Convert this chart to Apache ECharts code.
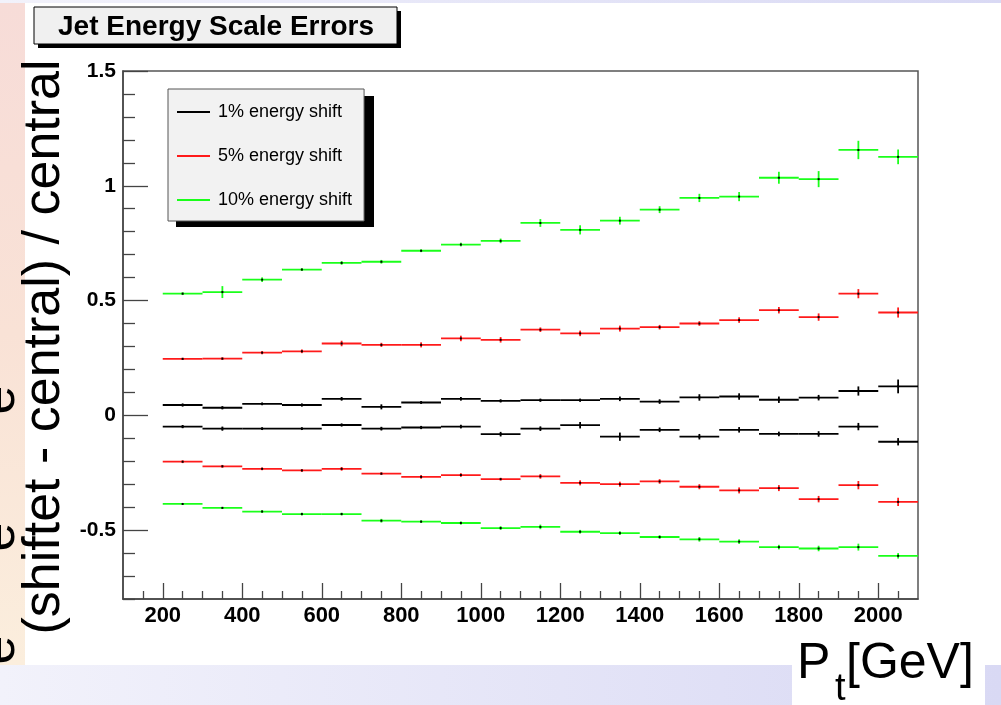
<!DOCTYPE html>
<html>
<head>
<meta charset="utf-8">
<script src="https://cdn.jsdelivr.net/npm/echarts@6/dist/echarts.min.js"></script>
<style>
  html, body { margin: 0; padding: 0; background: #fff; }
  #chart { width: 1001px; height: 705px; }
</style>
</head>
<body>
<div id="chart"></div>
<script>
// bin centres in Pt [GeV], each bin is 100 GeV wide
const ptBins = [250, 350, 450, 550, 650, 750, 850, 950, 1050, 1150, 1250, 1350, 1450, 1550, 1650, 1750, 1850, 1950, 2050];
const binWidth = 100;

// 1% shift, up / down
const shift1Up = [0.045, 0.033, 0.050, 0.045, 0.072, 0.037, 0.056, 0.072, 0.063, 0.066, 0.066, 0.072, 0.060, 0.078, 0.082, 0.068, 0.077, 0.106, 0.126];
const shift1UpErr = [0.007, 0.007, 0.006, 0.007, 0.008, 0.011, 0.006, 0.008, 0.007, 0.007, 0.007, 0.010, 0.010, 0.014, 0.014, 0.014, 0.012, 0.020, 0.030];
const shift1Down = [-0.049, -0.058, -0.058, -0.058, -0.042, -0.058, -0.053, -0.049, -0.082, -0.058, -0.043, -0.093, -0.063, -0.093, -0.063, -0.081, -0.081, -0.049, -0.115];
const shift1DownErr = [0.007, 0.009, 0.006, 0.006, 0.007, 0.008, 0.007, 0.008, 0.010, 0.010, 0.014, 0.018, 0.010, 0.012, 0.012, 0.010, 0.012, 0.016, 0.016];

// 5% shift, up / down
const shift5Up = [0.246, 0.247, 0.273, 0.279, 0.313, 0.307, 0.307, 0.335, 0.329, 0.373, 0.357, 0.378, 0.384, 0.400, 0.415, 0.458, 0.428, 0.530, 0.448];
const shift5UpErr = [0.005, 0.006, 0.007, 0.008, 0.012, 0.009, 0.011, 0.012, 0.012, 0.010, 0.012, 0.013, 0.010, 0.010, 0.012, 0.014, 0.016, 0.020, 0.022];
const shift5Down = [-0.202, -0.222, -0.233, -0.240, -0.233, -0.254, -0.268, -0.260, -0.278, -0.266, -0.294, -0.300, -0.288, -0.311, -0.327, -0.317, -0.365, -0.304, -0.377];
const shift5DownErr = [0.006, 0.006, 0.006, 0.006, 0.008, 0.006, 0.008, 0.008, 0.006, 0.010, 0.011, 0.011, 0.010, 0.011, 0.013, 0.013, 0.014, 0.018, 0.018];

// 10% shift, up / down
const shift10Up = [0.530, 0.537, 0.591, 0.635, 0.664, 0.669, 0.717, 0.744, 0.760, 0.838, 0.808, 0.848, 0.896, 0.947, 0.953, 1.035, 1.029, 1.156, 1.126];
const shift10UpErr = [0.006, 0.026, 0.010, 0.006, 0.008, 0.008, 0.006, 0.008, 0.010, 0.017, 0.020, 0.017, 0.015, 0.018, 0.020, 0.026, 0.035, 0.040, 0.032];
const shift10Down = [-0.386, -0.403, -0.419, -0.430, -0.430, -0.459, -0.463, -0.469, -0.491, -0.486, -0.507, -0.513, -0.530, -0.540, -0.550, -0.574, -0.580, -0.574, -0.612];
const shift10DownErr = [0.004, 0.004, 0.006, 0.006, 0.006, 0.008, 0.006, 0.007, 0.008, 0.010, 0.008, 0.008, 0.008, 0.010, 0.010, 0.010, 0.012, 0.015, 0.012];

// axis ticks
const xMajor = [200, 400, 600, 800, 1000, 1200, 1400, 1600, 1800, 2000];
const xMinor = [150, 250, 300, 350, 450, 500, 550, 650, 700, 750, 850, 900, 950, 1050, 1100, 1150, 1250, 1300, 1350, 1450, 1500, 1550, 1650, 1700, 1750, 1850, 1900, 1950, 2050];
const yMajor = [-0.5, 0, 0.5, 1, 1.5];
const yMinor = [-0.8, -0.7, -0.6, -0.4, -0.3, -0.2, -0.1, 0.1, 0.2, 0.3, 0.4, 0.6, 0.7, 0.8, 0.9, 1.1, 1.2, 1.3, 1.4];

const FONT = '"Liberation Sans", Arial, Helvetica, sans-serif';

function toRows(vals, errs) {
    return ptBins.map((x, i) => [x, vals[i], errs[i]]);
}

function renderBin(params, api) {
    const x = api.value(0);
    const y = api.value(1);
    const e = api.value(2);
    const l = api.coord([x - binWidth / 2, y]);
    const r = api.coord([x + binWidth / 2, y]);
    const t = api.coord([x, y + e]);
    const b = api.coord([x, y - e]);
    const c = api.coord([x, y]);
    const style = { stroke: api.visual('color'), lineWidth: 1.8 };
    return {
        type: 'group',
        children: [
            { type: 'line', shape: { x1: l[0], y1: l[1], x2: r[0], y2: r[1] }, style },
            { type: 'line', shape: { x1: t[0], y1: t[1], x2: b[0], y2: b[1] }, style },
            { type: 'rect', shape: { x: c[0] - 1, y: c[1] - 1, width: 2, height: 2 }, style: { fill: '#000' } },
        ],
    };
}

function binSeries(name, color, vals, errs) {
    return {
        name,
        type: 'custom',
        renderItem: renderBin,
        itemStyle: { color },
        encode: { x: 0, y: 1 },
        data: toRows(vals, errs),
        z: 3,
    };
}

function eGlyph(y) {
    return { type: 'text', z: -8, x: 0, y, rotation: Math.PI / 2,
        style: { text: 'e', font: '52px ' + FONT, fill: '#000', textAlign: 'center', textVerticalAlign: 'middle' } };
}

const chart = echarts.init(document.getElementById('chart'), null, { renderer: 'canvas' });

chart.setOption({
    backgroundColor: '#fff',
    animation: false,
    grid: {
        left: 123, top: 71, right: 83, bottom: 106,
        show: true, borderColor: '#555', borderWidth: 1.5, backgroundColor: 'transparent',
    },
    legend: {
        orient: 'vertical',
        left: 168, top: 89,
        width: 198,
        padding: [14, 12, 12, 9],
        itemGap: 26,
        itemWidth: 33,
        itemHeight: 2,
        icon: 'rect',
        backgroundColor: '#f2f2f2',
        borderColor: '#555',
        borderWidth: 1,
        textStyle: { fontFamily: FONT, fontSize: 18, color: '#000', padding: [0, 0, 0, 3] },
        data: ['1% energy shift', '5% energy shift', '10% energy shift'],
    },
    xAxis: [
        {
            type: 'value', min: 100, max: 2100, position: 'bottom',
            axisLine: { show: true, onZero: false, lineStyle: { color: '#444', width: 1.5 } },
            axisTick: { show: true, inside: true, length: 16, customValues: xMajor, lineStyle: { color: '#444', width: 1.3 } },
            axisLabel: { customValues: xMajor, formatter: v => String(v), fontFamily: FONT, fontWeight: 'bold', fontSize: 22, color: '#000', margin: 6 },
            splitLine: { show: false },
        },
        {
            type: 'value', min: 100, max: 2100, position: 'bottom',
            axisLine: { show: false, onZero: false },
            axisTick: { show: true, inside: true, length: 8, customValues: xMinor, lineStyle: { color: '#444', width: 1.3 } },
            axisLabel: { show: false },
            splitLine: { show: false },
        },
    ],
    yAxis: [
        {
            type: 'value', min: -0.8, max: 1.5, position: 'left',
            axisLine: { show: true, onZero: false, lineStyle: { color: '#444', width: 1.5 } },
            axisTick: { show: true, inside: true, length: 25, customValues: yMajor, lineStyle: { color: '#444', width: 1.3 } },
            axisLabel: { customValues: yMajor, fontFamily: FONT, fontWeight: 'bold', fontSize: 21, color: '#000', margin: 7 },
            splitLine: { show: false },
        },
        {
            type: 'value', min: -0.8, max: 1.5, position: 'left',
            axisLine: { show: false, onZero: false },
            axisTick: { show: true, inside: true, length: 12, customValues: yMinor, lineStyle: { color: '#444', width: 1.3 } },
            axisLabel: { show: false },
            splitLine: { show: false },
        },
    ],
    series: [
        binSeries('1% energy shift', '#000000', shift1Up, shift1UpErr),
        binSeries('1% energy shift', '#000000', shift1Down, shift1DownErr),
        binSeries('5% energy shift', '#ff1a1a', shift5Up, shift5UpErr),
        binSeries('5% energy shift', '#ff1a1a', shift5Down, shift5DownErr),
        binSeries('10% energy shift', '#1aff1a', shift10Up, shift10UpErr),
        binSeries('10% energy shift', '#1aff1a', shift10Down, shift10DownErr),
    ],
    graphic: [
        // slide background behind the plot
        { type: 'rect', z: -10, shape: { x: 0, y: 0, width: 1001, height: 705 },
          style: { fill: new echarts.graphic.LinearGradient(0, 0, 1, 0, [
              { offset: 0, color: '#f2f2fb' }, { offset: 1, color: '#d9d9f4' }]) } },
        { type: 'rect', z: -9, shape: { x: 0, y: 3, width: 25, height: 662 },
          style: { fill: new echarts.graphic.LinearGradient(0, 0, 0, 1, [
              { offset: 0, color: '#f7dcd8' }, { offset: 0.5, color: '#f9e2d6' }, { offset: 1, color: '#fbeedd' }]) } },
        eGlyph(400),
        eGlyph(537),
        eGlyph(650),
        { type: 'rect', z: -7, shape: { x: 25, y: 3, width: 976, height: 662 }, style: { fill: '#fff' } },
        { type: 'rect', z: -7, shape: { x: 792, y: 660, width: 193, height: 45 }, style: { fill: '#fff' } },

        // legend drop shadow
        { type: 'rect', z: 1, shape: { x: 176, y: 96, width: 198, height: 131 }, style: { fill: '#000' } },

        // title box
        { type: 'rect', z: 10, shape: { x: 38, y: 11, width: 363, height: 37 }, style: { fill: '#000' } },
        { type: 'rect', z: 11, shape: { x: 34, y: 7, width: 363, height: 37 }, style: { fill: '#f0f0f0', stroke: '#000', lineWidth: 1 } },
        { type: 'text', z: 12, x: 216, y: 27,
          style: { text: 'Jet Energy Scale Errors', font: 'bold 28px ' + FONT, fill: '#000', textAlign: 'center', textVerticalAlign: 'middle' } },

        // axis titles
        { type: 'text', z: 12, x: 45, y: 347, rotation: Math.PI / 2,
          style: { text: '(shiftet - central) / central', font: '52px ' + FONT, fill: '#000', textAlign: 'center', textVerticalAlign: 'middle' } },
        { type: 'text', z: 12, x: 797, y: 664,
          style: { text: 'P', font: '50px ' + FONT, fill: '#000', textAlign: 'left', textVerticalAlign: 'middle' } },
        { type: 'text', z: 12, x: 835, y: 690,
          style: { text: 't', font: '38px ' + FONT, fill: '#000', textAlign: 'left', textVerticalAlign: 'middle' } },
        { type: 'text', z: 12, x: 846, y: 664,
          style: { text: '[GeV]', font: '50px ' + FONT, fill: '#000', textAlign: 'left', textVerticalAlign: 'middle' } },
    ],
});
</script>
</body>
</html>
